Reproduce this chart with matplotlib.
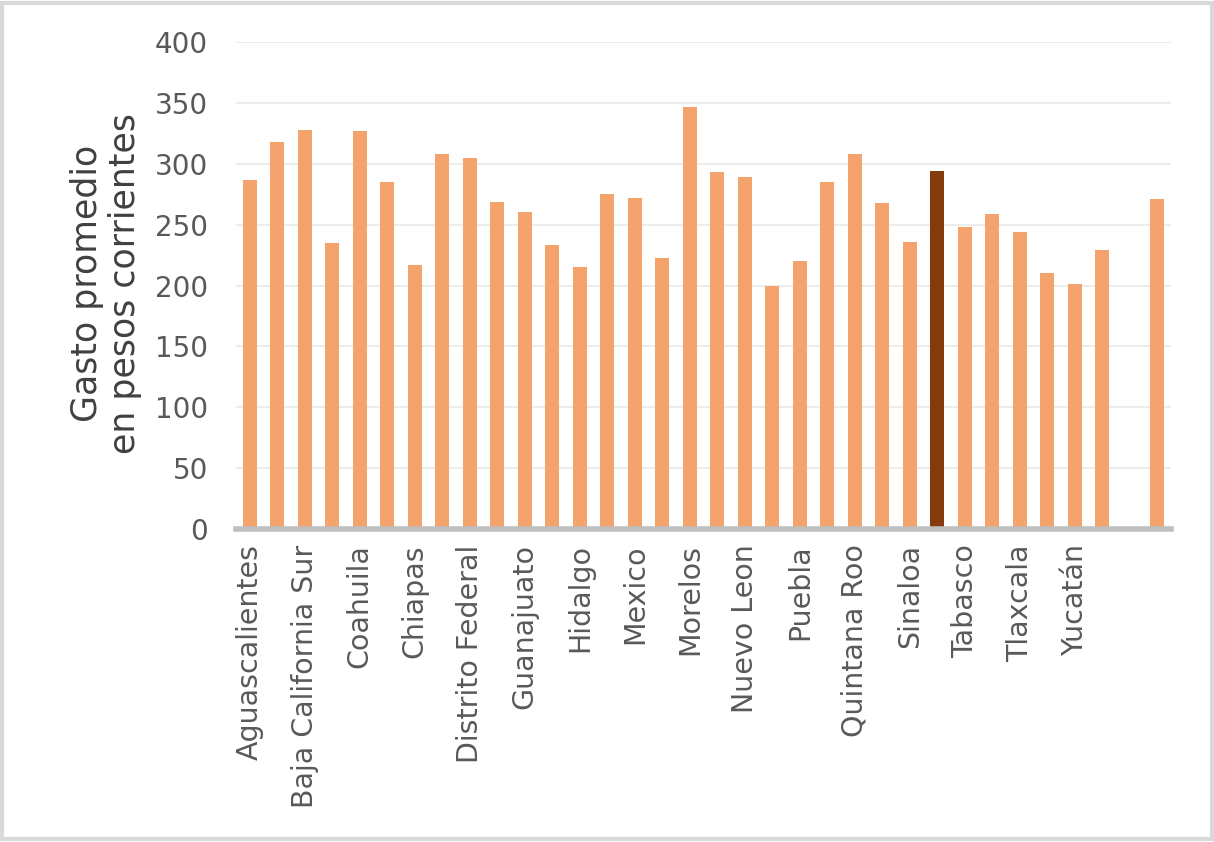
import matplotlib.pyplot as plt
from matplotlib.patches import Rectangle

estados = ['Aguascalientes', 'Baja California', 'Baja California Sur', 'Campeche',
           'Coahuila', 'Colima', 'Chiapas', 'Chihuahua', 'Distrito Federal', 'Durango',
           'Guanajuato', 'Guerrero', 'Hidalgo', 'Jalisco', 'Mexico', 'Michoacán',
           'Morelos', 'Nayarit', 'Nuevo Leon', 'Oaxaca', 'Puebla', 'Querétaro',
           'Quintana Roo', 'San Luis Potosí', 'Sinaloa', 'Sonora', 'Tabasco',
           'Tamaulipas', 'Tlaxcala', 'Veracruz', 'Yucatán', 'Zacatecas', '', 'Nacional']
gasto = [287, 318, 328, 235, 327, 285, 217, 308, 305, 269,
         260, 233, 215, 275, 272, 223, 347, 293, 289, 200,
         220, 285, 308, 268, 236, 294, 248, 259, 244, 210,
         201, 229, None, 271]
resaltado = 'Sonora'

claro = '#F3A36B'
oscuro = '#843C0C'

plt.rcParams['font.family'] = ['DejaVu Sans']

fig = plt.figure(figsize=(12.14, 8.42), dpi=100)
ax = fig.add_axes([0.1944, 0.3717, 0.7702, 0.5784])

xs = [i for i, v in enumerate(gasto) if v is not None]
vals = [gasto[i] for i in xs]
cols = [oscuro if estados[i] == resaltado else claro for i in xs]
ax.bar(xs, vals, width=0.52, color=cols, zorder=3)

ax.set_xlim(-0.5, len(estados) - 0.5)
ax.set_ylim(0, 400)
ax.set_yticks(range(0, 401, 50))
ax.yaxis.grid(True, color='#EBEBEB', linewidth=1.3, zorder=0)
ax.set_axisbelow(True)

# only every other state gets a label
ax.set_xticks(range(0, len(estados)))
ax.set_xticklabels([e if i % 2 == 0 and i < 32 else '' for i, e in enumerate(estados)],
                   rotation=90, va='top', ha='center')

for s in ['top', 'right', 'left']:
    ax.spines[s].set_visible(False)
ax.spines['bottom'].set_color('#BFBFBF')
ax.spines['bottom'].set_linewidth(4)
ax.spines['bottom'].set_zorder(4)

ax.tick_params(axis='both', length=0, colors='#595959')
ax.tick_params(axis='y', pad=20, labelsize=20)
ax.tick_params(axis='x', pad=11, labelsize=20.5)

fig.text(106 / 1214, 1 - 283 / 842, 'Gasto promedio\nen pesos corrientes',
         rotation=90, ha='center', va='center', multialignment='center',
         fontsize=25, color='#404040', linespacing=1.12)

fig.patches.append(Rectangle((0.002, 0.003), 0.996, 0.994, transform=fig.transFigure,
                             fill=False, edgecolor='#D9D9D9', linewidth=3))

fig.savefig('out.png', dpi=100)
